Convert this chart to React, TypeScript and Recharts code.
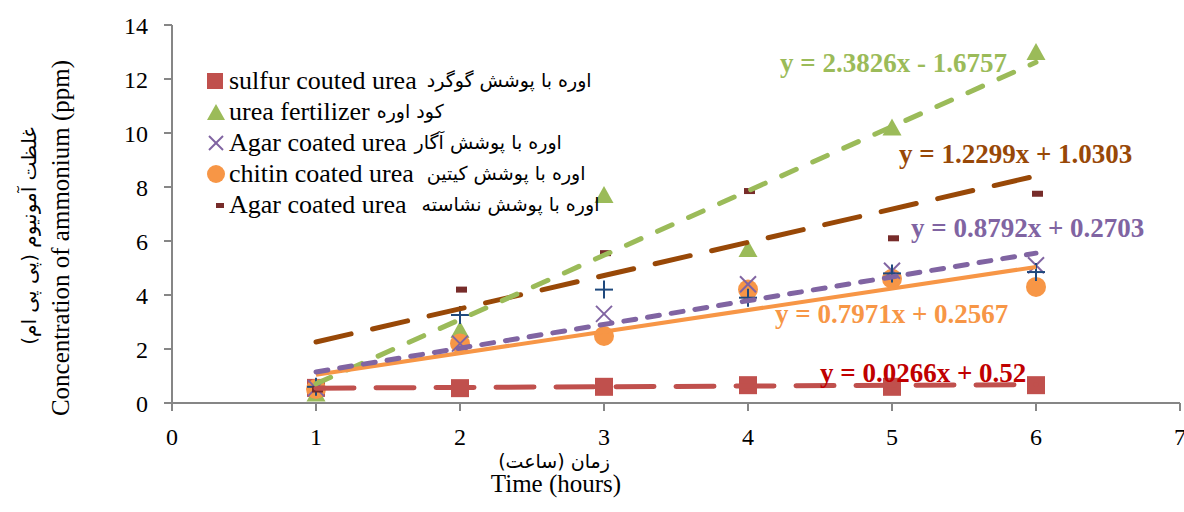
import React from "react";
import { ComposedChart, Scatter, Line, XAxis, YAxis } from "recharts";

// ---- data ----
const hours = [1, 2, 3, 4, 5, 6];
const sulfurCoated = [0.56, 0.55, 0.6, 0.66, 0.6, 0.66];
const ureaFertilizer = [0.35, 2.7, 7.7, 5.7, 10.2, 13.0];
const agarCoated = [0.55, 2.2, 3.3, 4.4, 4.9, 5.1];
const chitinCoated = [0.52, 2.2, 2.48, 4.2, 4.6, 4.3];
const extraPlus = [0.6, 3.26, 4.2, 3.9, 4.8, 4.85];
const starchCoated = [0.5, 4.2, 5.55, 7.85, 6.1, 7.75];

const trendX = [1, 6];
const sulfurTrend = [0.55, 0.68];
const ureaTrend = [0.71, 12.62];
const agarTrend = [1.15, 5.55];
const chitinTrend = [1.05, 5.04];
const starchTrend = [2.26, 8.41];

const xTicks = [0, 1, 2, 3, 4, 5, 6, 7];
const yTicks = [0, 2, 4, 6, 8, 10, 12, 14];

const legendEn = ["sulfur couted urea", "urea fertilizer", "Agar coated urea", "chitin coated urea", "Agar coated urea"];
const legendFa = ["اوره با پوشش گوگرد", "کود اوره", "اوره با پوشش آگار", "اوره با پوشش کیتین", "اوره با پوشش نشاسته"];
const legendGaps = [10, 7, 8, 13, 15];

const equations = [
  { text: "y = 2.3826x - 1.6757", color: "#9BBB59", x: 780, y: 72 },
  { text: "y = 1.2299x + 1.0303", color: "#984807", x: 899, y: 163 },
  { text: "y = 0.8792x + 0.2703", color: "#8064A2", x: 911, y: 237 },
  { text: "y = 0.7971x + 0.2567", color: "#F79646", x: 775, y: 323 },
  { text: "y = 0.0266x + 0.52", color: "#C00000", x: 820, y: 382 },
];

const pts = (xs: number[], ys: number[]) => xs.map((x, i) => ({ x, y: ys[i] }));

const RED = "#C0504D";
const GREEN = "#9BBB59";
const PURPLE = "#8064A2";
const ORANGE = "#F79646";
const BROWN = "#984807";
const STARCH = "#772C2A";
const BLUE = "#1F497D";

const SquareShape = (p: any) => <rect x={p.cx - 9} y={p.cy - 9} width={18} height={18} fill={RED} />;
const TriShape = (p: any) => (
  <polygon points={`${p.cx},${p.cy - 9} ${p.cx - 9.5},${p.cy + 8} ${p.cx + 9.5},${p.cy + 8}`} fill={GREEN} />
);
const XShape = (p: any) => (
  <g stroke={PURPLE} strokeWidth={2}>
    <line x1={p.cx - 8} y1={p.cy - 8} x2={p.cx + 8} y2={p.cy + 8} />
    <line x1={p.cx - 8} y1={p.cy + 8} x2={p.cx + 8} y2={p.cy - 8} />
  </g>
);
const PlusShape = (p: any) => (
  <g stroke={BLUE} strokeWidth={2}>
    <line x1={p.cx - 9} y1={p.cy} x2={p.cx + 9} y2={p.cy} />
    <line x1={p.cx} y1={p.cy - 9} x2={p.cx} y2={p.cy + 9} />
  </g>
);
const CircleShape = (p: any) => <circle cx={p.cx} cy={p.cy} r={10} fill={ORANGE} />;
const DashShape = (p: any) => <rect x={p.cx - 4} y={p.cy - 3} width={11} height={6} fill={STARCH} />;

const legendIcons = [
  <rect x={2} y={3} width={16} height={16} fill={RED} />,
  <polygon points="11,3 2,19 20,19" fill={GREEN} />,
  <g stroke={PURPLE} strokeWidth={2}><line x1={4} y1={4} x2={18} y2={18} /><line x1={4} y1={18} x2={18} y2={4} /></g>,
  <circle cx={11} cy={11} r={9} fill={ORANGE} />,
  <rect x={11} y={9} width={8} height={5} fill={STARCH} />,
];

const LegendBox = () => (
  <div
    style={{
      position: "absolute",
      left: 205,
      top: 65,
      fontFamily: "'Liberation Serif', 'Times New Roman', serif",
      color: "#000",
      lineHeight: 1,
    }}
  >
    {legendEn.map((en, i) => (
      <div key={i} style={{ display: "flex", alignItems: "center", height: 31, whiteSpace: "nowrap" }}>
        <svg width={22} height={22} style={{ marginRight: 2 }}>{legendIcons[i]}</svg>
        <span style={{ fontSize: 26 }}>{en}</span>
        <span style={{ fontSize: 19, fontFamily: "'DejaVu Sans', sans-serif", marginLeft: legendGaps[i] }}>
          {legendFa[i]}
        </span>
      </div>
    ))}
  </div>
);

export default function App() {
  return (
    <div style={{ position: "absolute", left: 0, top: 0, width: 1184, height: 512, background: "#fff", overflow: "hidden" }}>
      <ComposedChart width={1184} height={512} margin={{ top: 25, right: 4, left: 0, bottom: 0 }}>
        <XAxis
          dataKey="x"
          type="number"
          domain={[0, 7]}
          ticks={xTicks}
          interval={0}
          height={109}
          tickSize={8}
          tickMargin={17}
          stroke="#868686"
          strokeWidth={2}
          tick={{ fill: "#000", fontSize: 24, fontFamily: "'Liberation Serif', serif" }}
          allowDataOverflow
        />
        <YAxis
          type="number"
          dataKey="y"
          domain={[0, 14]}
          ticks={yTicks}
          interval={0}
          width={172}
          tickSize={8}
          tickMargin={16}
          stroke="#868686"
          strokeWidth={2}
          tick={{ fill: "#000", fontSize: 24, fontFamily: "'Liberation Serif', serif" }}
          allowDataOverflow
        />
        <Scatter data={pts(hours, sulfurCoated)} dataKey="y" shape={SquareShape} isAnimationActive={false} />
        <Scatter data={pts(hours, ureaFertilizer)} dataKey="y" shape={TriShape} isAnimationActive={false} />
        <Scatter data={pts(hours, chitinCoated)} dataKey="y" shape={CircleShape} isAnimationActive={false} />
        <Scatter data={pts(hours, agarCoated)} dataKey="y" shape={XShape} isAnimationActive={false} />
        <Scatter data={pts(hours, extraPlus)} dataKey="y" shape={PlusShape} isAnimationActive={false} />
        <Scatter data={pts(hours, starchCoated)} dataKey="y" shape={DashShape} isAnimationActive={false} />
        <Line data={pts(trendX, sulfurTrend)} dataKey="y" stroke={RED} strokeWidth={5} strokeDasharray="38 22" strokeLinecap="round" dot={false} activeDot={false} isAnimationActive={false} zIndex={700} />
        <Line data={pts(trendX, starchTrend)} dataKey="y" stroke={BROWN} strokeWidth={5} strokeDasharray="36 22" strokeLinecap="round" dot={false} activeDot={false} isAnimationActive={false} zIndex={700} />
        <Line data={pts(trendX, ureaTrend)} dataKey="y" stroke={GREEN} strokeWidth={5} strokeDasharray="16 18" strokeLinecap="round" dot={false} activeDot={false} isAnimationActive={false} zIndex={700} />
        <Line data={pts(trendX, chitinTrend)} dataKey="y" stroke={ORANGE} strokeWidth={4} dot={false} activeDot={false} isAnimationActive={false} zIndex={700} />
        <Line data={pts(trendX, agarTrend)} dataKey="y" stroke={PURPLE} strokeWidth={5} strokeDasharray="12 12" strokeLinecap="round" dot={false} activeDot={false} isAnimationActive={false} zIndex={700} />
      </ComposedChart>
      <LegendBox />
      <svg width={1184} height={512} style={{ position: "absolute", left: 0, top: 0, pointerEvents: "none" }}>
        {equations.map((e, i) => (
          <text key={i} x={e.x} y={e.y} fill={e.color} fontSize={27} fontWeight="bold" fontFamily="'Liberation Serif', serif">
            {e.text}
          </text>
        ))}
        <text x={60} y={238} transform="rotate(-90 60 238)" textAnchor="middle" dominantBaseline="central" fontSize={25} fontFamily="'Liberation Serif', serif" fill="#000">
          Concentration of ammonium (ppm)
        </text>
        <text x={29} y={236} transform="rotate(-90 29 236)" textAnchor="middle" dominantBaseline="central" fontSize={20} fontFamily="'DejaVu Sans', sans-serif" fill="#000">
          غلظت آمونیوم (پی پی ام)
        </text>
        <text x={554} y={461} textAnchor="middle" dominantBaseline="central" fontSize={19} fontFamily="'DejaVu Sans', sans-serif" fill="#000">
          زمان (ساعت)
        </text>
        <text x={556} y={492} textAnchor="middle" fontSize={25} fontFamily="'Liberation Serif', serif" fill="#000">
          Time (hours)
        </text>
      </svg>
    </div>
  );
}
